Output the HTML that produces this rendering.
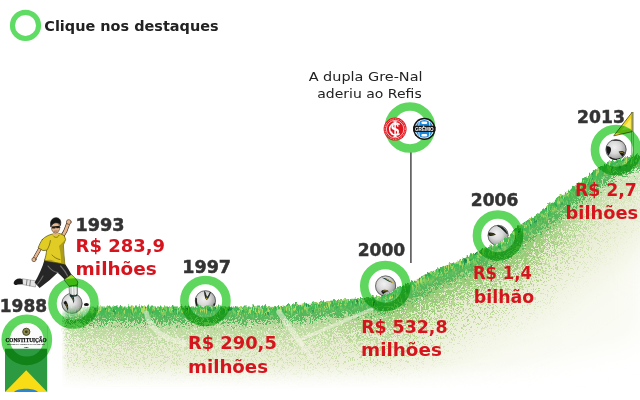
<!DOCTYPE html>
<html lang="pt-BR">
<head>
<meta charset="utf-8">
<title>Clique nos destaques</title>
<style>
html,body{margin:0;padding:0;background:#fff;}
body{width:640px;height:400px;overflow:hidden;position:relative;}
svg{position:absolute;left:0;top:0;display:block;}
.yr{font-family:"DejaVu Sans","Liberation Sans",sans-serif;font-weight:bold;font-size:18px;fill:#333;stroke:#333;stroke-width:0.5px;}
.val{font-family:"DejaVu Sans","Liberation Sans",sans-serif;font-weight:bold;font-size:18.4px;fill:#d6141e;}
.ttl{font-family:"DejaVu Sans","Liberation Sans",sans-serif;font-weight:bold;font-size:14.3px;fill:#222;}
.note{font-family:"DejaVu Sans","Liberation Sans",sans-serif;font-size:12.6px;fill:#222;}
.rg{mix-blend-mode:multiply;}
</style>
</head>
<body>
<svg width="640" height="400" viewBox="0 0 640 400">
<defs>
  <path id="curve" d="M62,307.4 C64.2,307.4 70.3,307.3 75,307.2 C79.7,307.1 80.8,306.9 90,306.8 C99.2,306.7 116.7,306.8 130,306.8 C143.3,306.8 153.3,306.8 170,306.8 C186.7,306.8 213.3,306.8 230,306.8 C246.7,306.8 260.0,306.9 270,306.6 C280.0,306.4 285.0,305.7 290,305.3 C295.0,304.9 296.7,304.5 300,304.1 C303.3,303.7 303.3,303.8 310,303.1 C316.7,302.4 331.7,300.9 340,300.1 C348.3,299.3 355.0,298.8 360,298.3 C365.0,297.8 367.3,297.3 370,297.0 C372.7,296.7 373.5,296.6 376,296.4 C378.5,296.2 382.3,296.4 385,295.6 C387.7,294.8 389.9,293.0 392,291.8 C394.1,290.6 394.7,289.8 397.5,288.4 C400.3,287.0 405.2,285.1 409,283.3 C412.8,281.5 415.7,279.6 420,277.3 C424.3,275.1 430.0,272.0 435,269.8 C440.0,267.6 445.0,266.0 450,264.1 C455.0,262.2 460.2,260.4 465,258.2 C469.8,256.0 474.8,252.6 478.5,250.8 C482.2,249.0 484.2,248.6 487.5,247.4 C490.8,246.2 494.5,245.6 498,243.8 C501.5,242.0 505.8,238.7 508.5,236.4 C511.2,234.1 512.2,232.3 514.5,230.2 C516.8,228.1 519.2,226.0 522,224.0 C524.8,222.0 528.4,219.8 531,218.2 C533.6,216.6 533.3,217.5 537.5,214.4 C541.7,211.3 549.8,204.3 556,199.6 C562.2,194.9 569.3,190.2 575,186.1 C580.7,182.0 586.3,177.9 590,175.1 C593.7,172.3 594.5,171.0 597,169.2 C599.5,167.4 602.2,165.6 605,164.2 C607.8,162.8 610.7,161.9 614,160.8 C617.3,159.7 621.3,158.7 625,157.8 C628.7,156.9 631.8,156.1 636,155.4 C640.2,154.7 647.7,154.1 650,153.8"/>
  <clipPath id="below">
    <path d="M62,307.4 C64.2,307.4 70.3,307.3 75,307.2 C79.7,307.1 80.8,306.9 90,306.8 C99.2,306.7 116.7,306.8 130,306.8 C143.3,306.8 153.3,306.8 170,306.8 C186.7,306.8 213.3,306.8 230,306.8 C246.7,306.8 260.0,306.9 270,306.6 C280.0,306.4 285.0,305.7 290,305.3 C295.0,304.9 296.7,304.5 300,304.1 C303.3,303.7 303.3,303.8 310,303.1 C316.7,302.4 331.7,300.9 340,300.1 C348.3,299.3 355.0,298.8 360,298.3 C365.0,297.8 367.3,297.3 370,297.0 C372.7,296.7 373.5,296.6 376,296.4 C378.5,296.2 382.3,296.4 385,295.6 C387.7,294.8 389.9,293.0 392,291.8 C394.1,290.6 394.7,289.8 397.5,288.4 C400.3,287.0 405.2,285.1 409,283.3 C412.8,281.5 415.7,279.6 420,277.3 C424.3,275.1 430.0,272.0 435,269.8 C440.0,267.6 445.0,266.0 450,264.1 C455.0,262.2 460.2,260.4 465,258.2 C469.8,256.0 474.8,252.6 478.5,250.8 C482.2,249.0 484.2,248.6 487.5,247.4 C490.8,246.2 494.5,245.6 498,243.8 C501.5,242.0 505.8,238.7 508.5,236.4 C511.2,234.1 512.2,232.3 514.5,230.2 C516.8,228.1 519.2,226.0 522,224.0 C524.8,222.0 528.4,219.8 531,218.2 C533.6,216.6 533.3,217.5 537.5,214.4 C541.7,211.3 549.8,204.3 556,199.6 C562.2,194.9 569.3,190.2 575,186.1 C580.7,182.0 586.3,177.9 590,175.1 C593.7,172.3 594.5,171.0 597,169.2 C599.5,167.4 602.2,165.6 605,164.2 C607.8,162.8 610.7,161.9 614,160.8 C617.3,159.7 621.3,158.7 625,157.8 C628.7,156.9 631.8,156.1 636,155.4 C640.2,154.7 647.7,154.1 650,153.8 L650,410 L62,410 Z"/>
  </clipPath>
  <filter id="b25" filterUnits="userSpaceOnUse" x="-50" y="0" width="760" height="560"><feGaussianBlur stdDeviation="22"/></filter>
  <filter id="b10" filterUnits="userSpaceOnUse" x="-50" y="0" width="760" height="560"><feGaussianBlur stdDeviation="9"/></filter>
  <filter id="b14" filterUnits="userSpaceOnUse" x="-50" y="0" width="760" height="560"><feGaussianBlur stdDeviation="14"/></filter>
  <filter id="b6" filterUnits="userSpaceOnUse" x="-50" y="0" width="760" height="560"><feGaussianBlur stdDeviation="6"/></filter>
  <filter id="rough" filterUnits="userSpaceOnUse" x="-50" y="0" width="760" height="560">
    <feTurbulence type="fractalNoise" baseFrequency="0.45 0.12" numOctaves="2" seed="4" result="n"/>
    <feDisplacementMap in="SourceGraphic" in2="n" scale="7" xChannelSelector="R" yChannelSelector="G"/>
  </filter>
  <filter id="speck" filterUnits="userSpaceOnUse" x="0" y="0" width="640" height="400">
    <feTurbulence type="fractalNoise" baseFrequency="0.9" numOctaves="2" seed="11" result="t"/>
    <feColorMatrix in="t" type="matrix" values="0 0 0 0 1  0 0 0 0 1  0 0 0 0 0.9  0 0 0 7 -3.6"/>
  </filter>
  <filter id="dis0" filterUnits="userSpaceOnUse" x="-50" y="0" width="760" height="560" color-interpolation-filters="sRGB">
    <feGaussianBlur in="SourceGraphic" stdDeviation="20" result="bl"/>
    <feTurbulence type="fractalNoise" baseFrequency="0.7" numOctaves="1" seed="21" result="t"/>
    <feColorMatrix in="t" type="matrix" values="0 0 0 0 0  0 0 0 0 0  0 0 0 0 0  4 0 0 0 -1.5" result="na"/>
    <feComposite in="bl" in2="na" operator="arithmetic" k1="0" k2="0.6" k3="1" k4="-1" result="c"/>
    <feColorMatrix in="c" type="matrix" values="0 0 0 0 0.72  0 0 0 0 0.84  0 0 0 0 0.56  0 0 0 4 0"/>
  </filter>
  <filter id="dis1" filterUnits="userSpaceOnUse" x="-50" y="0" width="760" height="560" color-interpolation-filters="sRGB">
    <feGaussianBlur in="SourceGraphic" stdDeviation="11" result="bl"/>
    <feTurbulence type="fractalNoise" baseFrequency="0.75" numOctaves="1" seed="3" result="t"/>
    <feColorMatrix in="t" type="matrix" values="0 0 0 0 0  0 0 0 0 0  0 0 0 0 0  4 0 0 0 -1.5" result="na"/>
    <feComposite in="bl" in2="na" operator="arithmetic" k1="0" k2="1.2" k3="1" k4="-1" result="c"/>
    <feColorMatrix in="c" type="matrix" values="0 0 0 0 0.60  0 0 0 0 0.80  0 0 0 0 0.47  0 0 0 4 0"/>
  </filter>
  <filter id="dis2" filterUnits="userSpaceOnUse" x="-50" y="0" width="760" height="560" color-interpolation-filters="sRGB">
    <feGaussianBlur in="SourceGraphic" stdDeviation="5" result="bl"/>
    <feTurbulence type="fractalNoise" baseFrequency="0.8" numOctaves="1" seed="8" result="t"/>
    <feColorMatrix in="t" type="matrix" values="0 0 0 0 0  0 0 0 0 0  0 0 0 0 0  4 0 0 0 -1.5" result="na"/>
    <feComposite in="bl" in2="na" operator="arithmetic" k1="0" k2="1.3" k3="1" k4="-1" result="c"/>
    <feColorMatrix in="c" type="matrix" values="0 0 0 0 0.34  0 0 0 0 0.72  0 0 0 0 0.36  0 0 0 4 0"/>
  </filter>
  <filter id="b6w" filterUnits="userSpaceOnUse" x="0" y="250" width="200" height="160"><feGaussianBlur stdDeviation="7"/></filter>
  <filter id="blades" filterUnits="userSpaceOnUse" x="-50" y="0" width="760" height="560" color-interpolation-filters="sRGB">
    <feGaussianBlur in="SourceGraphic" stdDeviation="2.5" result="bl"/>
    <feTurbulence type="fractalNoise" baseFrequency="0.55 0.14" numOctaves="2" seed="17" result="t"/>
    <feColorMatrix in="t" type="matrix" values="0 0 0 0 0.72  0 0 0 0 0.86  0 0 0 0 0.40  5 0 0 0 -2.35" result="lt"/>
    <feColorMatrix in="t" type="matrix" values="0 0 0 0 0.10  0 0 0 0 0.52  0 0 0 0 0.30  0 -5 0 0 2.1" result="dk"/>
    <feComposite in="dk" in2="bl" operator="atop" result="m1"/>
    <feComposite in="lt" in2="m1" operator="atop"/>
  </filter>
  <filter id="b2" filterUnits="userSpaceOnUse" x="-50" y="0" width="760" height="560"><feGaussianBlur stdDeviation="2.5"/></filter>
  <linearGradient id="rmg" gradientUnits="userSpaceOnUse" x1="0" x2="640" y1="0" y2="0">
    <stop offset="0" stop-color="#8c8c8c"/>
    <stop offset="0.5" stop-color="#8c8c8c"/>
    <stop offset="0.64" stop-color="#fff"/>
    <stop offset="0.84" stop-color="#fff"/>
    <stop offset="0.97" stop-color="#4a4a4a"/>
  </linearGradient>
  <mask id="rmask" maskUnits="userSpaceOnUse" x="0" y="0" width="640" height="400"><rect x="0" y="0" width="640" height="400" fill="url(#rmg)"/></mask>
  <radialGradient id="tlg" cx="0.5" cy="0.5" r="0.5">
    <stop offset="0" stop-color="#000" stop-opacity="1"/>
    <stop offset="0.45" stop-color="#000" stop-opacity="0.85"/>
    <stop offset="1" stop-color="#000" stop-opacity="0"/>
  </radialGradient>
  <linearGradient id="leg" gradientUnits="userSpaceOnUse" x1="60" x2="67" y1="0" y2="0">
    <stop offset="0" stop-color="#000" stop-opacity="1"/>
    <stop offset="1" stop-color="#000" stop-opacity="0"/>
  </linearGradient>
  <mask id="gmask" maskUnits="userSpaceOnUse" x="0" y="0" width="640" height="400">
    <rect x="0" y="0" width="640" height="400" fill="#fff"/>
    <ellipse cx="68" cy="302" rx="40" ry="16" fill="url(#tlg)"/>
    <rect x="50" y="280" width="17" height="120" fill="url(#leg)"/>
  </mask>
  <linearGradient id="lfade" x1="0" x2="1" y1="0" y2="0">
    <stop offset="0" stop-color="#fff" stop-opacity="1"/>
    <stop offset="1" stop-color="#fff" stop-opacity="0"/>
  </linearGradient>
  <linearGradient id="bfade" x1="0" x2="0" y1="0" y2="1">
    <stop offset="0" stop-color="#fff" stop-opacity="0"/>
    <stop offset="1" stop-color="#fff" stop-opacity="1"/>
  </linearGradient>
  <radialGradient id="ballg" cx="0.42" cy="0.40" r="0.66">
    <stop offset="0" stop-color="#f2f2f2"/>
    <stop offset="0.45" stop-color="#d8d8d8"/>
    <stop offset="0.8" stop-color="#a6a6a6"/>
    <stop offset="1" stop-color="#5c5c5c"/>
  </radialGradient>
  <g id="ballbase">
    <circle r="10.45" fill="url(#ballg)"/>
    <circle r="10.1" fill="none" stroke="#333" stroke-width="0.8" opacity="0.75"/>
  </g>
  <!-- tapered swoosh mark, ~9px long -->
  <path id="sw" d="M-4.6,-1.6 C-1.6,-2.2 2,-1.4 4.8,1.2 C2.2,0.6 -1,0.6 -3.6,1.4 C-4.6,0.6 -4.9,-0.6 -4.6,-1.6 Z"/>
  <g id="ball1993">
    <use href="#ballbase"/>
    <use href="#sw" transform="translate(0.6,-5) rotate(62) scale(1.05)" fill="#16302c"/>
    <use href="#sw" transform="translate(-5.4,2.6) rotate(64) scale(1.1)" fill="#1c1c1c"/>
    <path d="M0.2,-6 L1.6,-2.6 M-6,1 L-4.2,5" stroke="#d2bd2c" stroke-width="0.8" stroke-dasharray="1 1.2" fill="none"/>
  </g>
  <g id="ball1997">
    <use href="#ballbase"/>
    <path d="M-0.8,-9.4 C0.2,-7 0.8,-4.8 1.6,-3.2 C3,-4.8 4.2,-6.8 5,-8.6 C4.2,-6 3.2,-3.4 1.9,-1.6 C1.3,-1.2 0.7,-1.6 0.4,-2.4 C-0.4,-4.6 -0.8,-7 -0.8,-9.4 Z" fill="#1a221c" stroke="#1a221c" stroke-width="0.8"/>
    <circle cx="1.4" cy="-2.6" r="0.7" fill="#cdb52e"/>
    <path d="M-9.2,-2.6 C-9.8,1.6 -8.4,5.4 -6,8" stroke="#1c1c1c" stroke-width="1.6" fill="none"/>
    <path d="M9.2,2.6 C8.6,4.6 7.6,6.2 6.2,7.6" stroke="#222" stroke-width="1.4" fill="none"/>
  </g>
  <g id="ball2000">
    <use href="#ballbase"/>
    <path d="M-4.6,-8.6 C0,-8.6 4.6,-6.4 8,-2.8 C5.2,-3.4 2.2,-4.6 -0.4,-6.4 C-1.8,-7.4 -3.4,-8.2 -4.6,-8.6 Z" fill="#173a3c"/>
    <path d="M0.8,-7.2 C3.4,-6 6,-4.4 7.8,-2.6" stroke="#cdb83a" stroke-width="0.9" fill="none"/>
    <path d="M-4.4,5 C-2.4,3.2 0.6,3.4 3.4,5.2 C1.4,5.4 -0.8,6.4 -2.4,8.2 C-3.4,7.4 -4.2,6.2 -4.4,5 Z" fill="#1c1c1c"/>
    <path d="M-2.8,5.2 C-1.4,4.6 0,4.6 1.4,5" stroke="#cdb83a" stroke-width="0.7" fill="none"/>
  </g>
  <g id="ball2006">
    <use href="#ballbase"/>
    <path d="M-9.6,-2.6 C-7,-3.2 -4,-2.6 -2.2,-0.8 C-4.2,0.4 -7.2,0.8 -9.8,0.2 Z" fill="#1a1a12"/>
    <path d="M-8,-1.4 C-6.4,-1.6 -4.8,-1.2 -3.6,-0.8" stroke="#6b6420" stroke-width="0.7" fill="none"/>
    <path d="M-0.6,-9.6 C3.6,-9.4 7.6,-6.2 9,-1.6 C7.4,-3 6.2,-4.6 4.6,-6 C3,-7.6 1.2,-8.8 -0.6,-9.6 Z" fill="#16241e" stroke="#16241e" stroke-width="0.8"/>
  </g>
  <g id="ball2013">
    <use href="#ballbase"/>
    <path d="M-9.6,-3 C-7.4,-4 -5.4,-2.8 -5,-0.6 C-4.8,1.6 -5.8,3.8 -7.6,5.8 C-9.4,3.4 -10.2,0.2 -9.6,-3 Z" fill="#1a1a1a"/>
    <path d="M2.6,2.2 C4.6,1 7,1.4 8.8,2.8 C8.4,4.4 7.6,5.8 6.4,7 C5,5.4 3.6,4 2.6,2.2 Z" fill="#1a1a1a"/>
    <path d="M3.6,2.8 C5,2.4 6.4,2.8 7.6,3.6" stroke="#cdb83a" stroke-width="0.7" fill="none"/>
    <path d="M-5.6,-8.4 C-2,-10.6 3.4,-10.4 6.8,-7.6 C3.4,-8.8 -1.6,-9 -5.6,-8.4 Z" fill="#222"/>
    <path d="M-6.2,7.6 C-3.4,10 1.4,10.4 4.4,9" stroke="#222" stroke-width="1.4" fill="none"/>
  </g>
  <g id="ring">
    <circle r="21.05" fill="none" stroke="#5fd75f" stroke-width="8.6"/>
  </g>
</defs>

<!-- balls -->
<use href="#ball1993" x="72" y="303.4"/>
<use href="#ball1997" x="205.4" y="300.8"/>
<use href="#ball2000" x="385.6" y="286"/>
<use href="#ball2006" x="498.1" y="235.4"/>
<use href="#ball2013" x="616" y="149.6"/>

<!-- grass -->
<g id="grass" mask="url(#gmask)">
  <g clip-path="url(#below)">
    <path d="M60,300 L640,150 L640,340 C610,346 585,352 560,358 C530,366 505,375 480,380 C450,386 420,389 400,390 L60,392 Z" fill="#f9faf2" filter="url(#b14)"/>
    <use href="#curve" fill="none" stroke="#e8ecd2" stroke-width="150" filter="url(#b25)"/>
  </g>
  <g filter="url(#rough)">
  <g clip-path="url(#below)">
    <g mask="url(#rmask)">
    <use href="#curve" fill="none" stroke="#000" stroke-width="110" filter="url(#dis0)"/>
    <use href="#curve" fill="none" stroke="#000" stroke-width="62" filter="url(#dis1)"/>
    </g>
    <use href="#curve" fill="none" stroke="#000" stroke-width="30" filter="url(#dis2)"/>
    <use href="#curve" fill="none" stroke="#42bb55" stroke-width="16" filter="url(#blades)"/>
  </g>
  </g>
  <!-- chalk lines -->
  <g fill="none" stroke="#f2f4e2" stroke-opacity="0.55" stroke-linecap="round" clip-path="url(#below)">
    <path d="M146.5,313 C148,326 160,338 184,343" stroke-width="5"/>
    <path d="M279,312 L301,344" stroke-width="5.5"/>
    <path d="M301,344 L312,358" stroke-width="3.5"/>
    <path d="M297,341 L372,309" stroke-width="3.5"/>
  </g>
  
  <rect x="0" y="364" width="640" height="25" fill="url(#bfade)"/>
  <rect x="0" y="388.5" width="640" height="14" fill="#fff"/>
</g>

<!-- legend -->
<circle cx="25.5" cy="25.4" r="13.05" fill="none" stroke="#5fdc64" stroke-width="5.1"/>

<!-- Gre-Nal note -->
<line x1="410.9" y1="152.4" x2="410.9" y2="263" stroke="#4a4a4a" stroke-width="1.5"/>

<!-- constitution booklet 1988 -->
<g id="booklet">
  <rect x="5" y="326" width="42.2" height="66" fill="#2b9a40"/>
  <rect x="5" y="326" width="42.2" height="22.7" fill="#fbfbfb"/>
  <path d="M5,392 L26.2,370.2 L47.2,392 Z" fill="#f7dc16"/>
  <path d="M14,392 C18,387.6 34,387.6 38,392 Z" fill="#2a86d6"/>
  <circle cx="26.3" cy="331.8" r="3.6" fill="#8a8a4e" stroke="#4a4a2a" stroke-width="1"/>
  <circle cx="26.3" cy="331.8" r="1.4" fill="#3c3c20"/>
  <text x="26.1" y="342.3" text-anchor="middle" textLength="41" lengthAdjust="spacingAndGlyphs" style="font-family:'Liberation Serif','DejaVu Serif',serif;font-weight:bold;font-size:5.9px;fill:#111;stroke:#111;stroke-width:0.25">CONSTITUIÇÃO</text>
  <text x="26.1" y="345.4" text-anchor="middle" textLength="38" lengthAdjust="spacingAndGlyphs" style="font-family:'Liberation Sans',sans-serif;font-weight:bold;font-size:2.1px;fill:#222">REPÚBLICA FEDERATIVA DO BRASIL</text>
  <text x="26.1" y="347.9" text-anchor="middle" style="font-family:'Liberation Sans',sans-serif;font-weight:bold;font-size:2px;fill:#222">1988</text>
</g>

<!-- player 1993 -->
<ellipse cx="86.4" cy="304.4" rx="2.5" ry="1.5" fill="#151515"/>
<g id="player" stroke-linejoin="round" stroke-linecap="round">
  <!-- back leg -->
  <path d="M13.6,283 C14.4,280 17,278.2 20.4,278.6 L23.6,279.4 L23,284.2 L18,284.6 C16,285.6 14,285 13.6,283 Z" fill="#1b1b1b"/>
  <path d="M22.6,278.8 L36.4,281 L35.4,287 L23.2,284.6 Z" fill="#e4e4e4" stroke="#777" stroke-width="0.5"/>
  <path d="M27,280 L26.4,285 M30.4,280.6 L29.8,285.8" stroke="#555" stroke-width="0.7" fill="none"/>
  <!-- shorts -->
  <path d="M44.6,259.6 L64.6,263.2 C67.2,267 69.6,271 71.6,274.8 L64.8,279.8 C62.4,277 60,274.6 57.6,272.8 C53,277.4 46.6,283 39.6,288 L34.6,282.4 C38.8,275.6 42.4,267.6 44.6,259.6 Z" fill="#262626"/>
  <path d="M48,266 C51,270 55,272.2 58,272.6 M60.6,266 C63.4,269 66,272.6 67.6,276 M43,276 C41.4,279 39.6,281.6 37.6,284" stroke="#6e6e6e" stroke-width="1.1" fill="none"/>
  <!-- kicking lower leg -->
  <path d="M64.4,279.6 L71.2,274.4 C74,276.6 76.6,279.4 77.8,282 L77.4,285 L69.6,286.2 Z" fill="#a4dc2c" stroke="#2a3a14" stroke-width="0.6"/>
  <path d="M69.4,286.6 L77.4,285.4 L77.6,294 C76,295.6 71.4,295.6 69.8,294 Z" fill="#c9cfc9" stroke="#5f6a5f" stroke-width="0.7"/>
  <path d="M72.4,286.6 L72.8,294.6 M75,286.2 L75.4,294.4" stroke="#f4f4f4" stroke-width="1.1" fill="none"/>
  <path d="M69.8,294 C71.4,295.8 76,295.8 77.6,294 L77.2,296 C75,297 72,297 70.2,296 Z" fill="#15342e"/>
  <!-- right (raised) arm -->
  <path d="M61.8,237 C64.4,233.6 66.4,229.4 67.8,224.6" stroke="#3a2a20" stroke-width="4" fill="none"/>
  <path d="M61.8,237 C64.4,233.6 66.4,229.4 67.8,224.6" stroke="#e6b68e" stroke-width="2.8" fill="none"/>
  <circle cx="68.8" cy="222" r="2.4" fill="#e6b68e" stroke="#3a2a20" stroke-width="0.6"/>
  <!-- left arm -->
  <path d="M40.6,247.6 C38.6,251 36.6,254.6 34.8,258" stroke="#3a2a20" stroke-width="3.6" fill="none"/>
  <path d="M40.6,247.6 C38.6,251 36.6,254.6 34.8,258" stroke="#e6b68e" stroke-width="2.5" fill="none"/>
  <circle cx="34" cy="259.6" r="2.1" fill="#e6b68e" stroke="#3a2a20" stroke-width="0.6"/>
  <!-- shirt -->
  <path d="M42.4,239.4 C45,236.6 49,234.8 52.6,234 L58.4,233.4 C60.4,233.6 62.6,234.4 64.4,236 L65.6,239.6 L63.4,245 C63.6,251.6 64.2,258 64.8,264.2 L44.4,260.6 C45.6,257 46.4,253.4 46.6,250.2 L43,250.6 L38.2,247.8 C39.4,244.6 40.6,241.8 42.4,239.4 Z" fill="#e0cc24" stroke="#4f4a10" stroke-width="0.7"/>
  <path d="M59,246 C60.6,252 61.2,258 61.2,263.6 L64.8,264.2 C64.2,258 63.6,251.6 63.4,245 L65.6,239.6 L61.6,243.4 Z" fill="#a3941a" opacity="0.85"/>
  <path d="M44.6,260.6 C48,259 52,259.6 55,261.4 L50,261.6 Z" fill="#a3941a" opacity="0.8"/>
  <path d="M47,250 C49,247 50,243.6 50.4,240.6 M52,255 C54,257.4 57,259 60,259.6 M53.4,236 C55,238 57.6,238 59,235.4" stroke="#6f6510" stroke-width="0.8" fill="none"/>
  <!-- neck / head -->
  <path d="M53.2,231 L58.2,230.6 L58.6,234.4 L52.8,235 Z" fill="#e3b48e"/>
  <ellipse cx="55.6" cy="227.6" rx="4.2" ry="5.4" fill="#e6b68e" stroke="#3a2a20" stroke-width="0.5"/>
  <path d="M50.8,226.4 C49.6,221.4 52,218 55.8,217.8 C59.6,217.6 61.6,220.4 60.4,225.6 C59.8,223.6 58.2,222.6 55.8,222.8 C53.2,223 51.6,224.4 50.8,226.4 Z" fill="#161616" stroke="#161616" stroke-width="0.7"/>
  <path d="M51.8,226.4 L59.8,225.8 L59.6,228 L56.6,228.2 L55.9,227.2 L55.2,228.4 L52.2,228.6 Z" fill="#1a1a1a"/>
  <path d="M54.2,231.2 L57.2,231" stroke="#7a3a2a" stroke-width="0.6"/>
</g>

<!-- flag 2013 -->
<g id="flag">
  <path d="M632.4,112 L632.4,157" stroke="#7f8f78" stroke-width="2.4"/>
  <path d="M632.4,112.6 L632.4,157" stroke="#e6ebe0" stroke-width="1.4"/>
  <path d="M632.2,112.2 L613.8,135.8 L632.2,131.6 Z" fill="#f2d61e" stroke="#5f5c14" stroke-width="0.9" stroke-linejoin="round"/>
  <path d="M630.6,118.6 L621.4,130.6 L630.6,128.6 Z" fill="#f9ec6e"/>
</g>

<!-- rings -->
<use class="rg" href="#ring" x="26.8" y="339.8"/>
<use class="rg" href="#ring" x="73.5" y="303.5"/>
<use class="rg" href="#ring" x="205.4" y="301"/>
<use class="rg" href="#ring" x="385.3" y="286"/>
<use class="rg" href="#ring" x="498" y="235.5"/>
<use class="rg" href="#ring" x="616" y="150"/>
<use class="rg" href="#ring" x="410" y="127.5"/>

<!-- crests -->
<g id="inter">
  <circle cx="395.1" cy="129.1" r="11.5" fill="#e0151d"/>
  <circle cx="395.1" cy="129.1" r="10.2" fill="none" stroke="#fff" stroke-width="0.9" stroke-dasharray="0.9 0.8" opacity="0.85"/>
  <circle cx="395.1" cy="129.1" r="8.7" fill="none" stroke="#fff" stroke-width="0.7"/>
  <text x="395.1" y="134.6" text-anchor="middle" style="font-family:'Liberation Serif',serif;font-weight:bold;font-size:16.5px;fill:#fff">S</text>
  <path d="M399.6,124.6 A6,6 0 1 0 399.6,133.6" stroke="#fff" stroke-width="1.5" fill="none"/>
  <path d="M395.1,121.8 L395.1,136.4" stroke="#fff" stroke-width="1.5"/>
  <path d="M393.4,121.8 L396.8,121.8 M393.4,136.4 L396.8,136.4" stroke="#fff" stroke-width="1"/>
</g>
<g id="gremio">
  <circle cx="424.3" cy="128.9" r="11.1" fill="#151515"/>
  <circle cx="424.3" cy="128.9" r="9.6" fill="#fff"/>
  <circle cx="424.3" cy="128.9" r="8.9" fill="#1f86d6"/>
  <path d="M419.4,121.2 C418.4,126 418.4,131.8 419.4,136.6 M429.2,121.2 C430.2,126 430.2,131.8 429.2,136.6" stroke="#fff" stroke-width="0.8" fill="none"/>
  <rect x="413.2" y="125.7" width="22.2" height="6.4" rx="1.6" fill="#151515"/>
  <rect x="421.4" y="121.4" width="5.8" height="2.5" rx="1.2" fill="#fff"/>
  <rect x="421.4" y="133.9" width="5.8" height="2.5" rx="1.2" fill="#fff"/>
  <text x="424.3" y="130.8" text-anchor="middle" textLength="18.6" lengthAdjust="spacingAndGlyphs" style="font-family:'Liberation Sans',sans-serif;font-weight:bold;font-size:5.2px;fill:#fff">GRÊMIO</text>
</g>

<!-- texts -->
<text class="ttl" x="44.31" y="31.2" textLength="174.30" lengthAdjust="spacingAndGlyphs">Clique nos destaques</text>
<text class="note" x="308.66" y="81.2" textLength="113.83" lengthAdjust="spacingAndGlyphs">A dupla Gre-Nal</text>
<text class="note" x="317.31" y="97.6" textLength="104.38" lengthAdjust="spacingAndGlyphs">aderiu ao Refis</text>
<text class="yr" x="-0.27" y="311.7" textLength="47.32" lengthAdjust="spacingAndGlyphs">1988</text>
<text class="yr" x="75.48" y="230.6" textLength="49.02" lengthAdjust="spacingAndGlyphs">1993</text>
<text class="yr" x="182.28" y="272.7" textLength="48.73" lengthAdjust="spacingAndGlyphs">1997</text>
<text class="yr" x="357.68" y="255.8" textLength="47.49" lengthAdjust="spacingAndGlyphs">2000</text>
<text class="yr" x="470.84" y="205.5" textLength="47.49" lengthAdjust="spacingAndGlyphs">2006</text>
<text class="yr" x="577.08" y="122.5" textLength="47.78" lengthAdjust="spacingAndGlyphs">2013</text>
<text class="val" x="75.58" y="251.5" textLength="89.48" lengthAdjust="spacingAndGlyphs">R$ 283,9</text>
<text class="val" x="75.57" y="274.5" textLength="81.25" lengthAdjust="spacingAndGlyphs">milhões</text>
<text class="val" x="187.92" y="348.8" textLength="88.90" lengthAdjust="spacingAndGlyphs">R$ 290,5</text>
<text class="val" x="187.95" y="372.5" textLength="80.12" lengthAdjust="spacingAndGlyphs">milhões</text>
<text class="val" x="361.13" y="332.8" textLength="86.32" lengthAdjust="spacingAndGlyphs">R$ 532,8</text>
<text class="val" x="361.11" y="356.0" textLength="80.69" lengthAdjust="spacingAndGlyphs">milhões</text>
<text class="val" x="472.91" y="279.1" textLength="58.94" lengthAdjust="spacingAndGlyphs">R$ 1,4</text>
<text class="val" x="473.85" y="302.6" textLength="60.40" lengthAdjust="spacingAndGlyphs">bilhão</text>
<text class="val" x="574.91" y="195.6" textLength="61.93" lengthAdjust="spacingAndGlyphs">R$ 2,7</text>
<text class="val" x="565.56" y="218.5" textLength="72.52" lengthAdjust="spacingAndGlyphs">bilhões</text>
</svg>
</body>
</html>
